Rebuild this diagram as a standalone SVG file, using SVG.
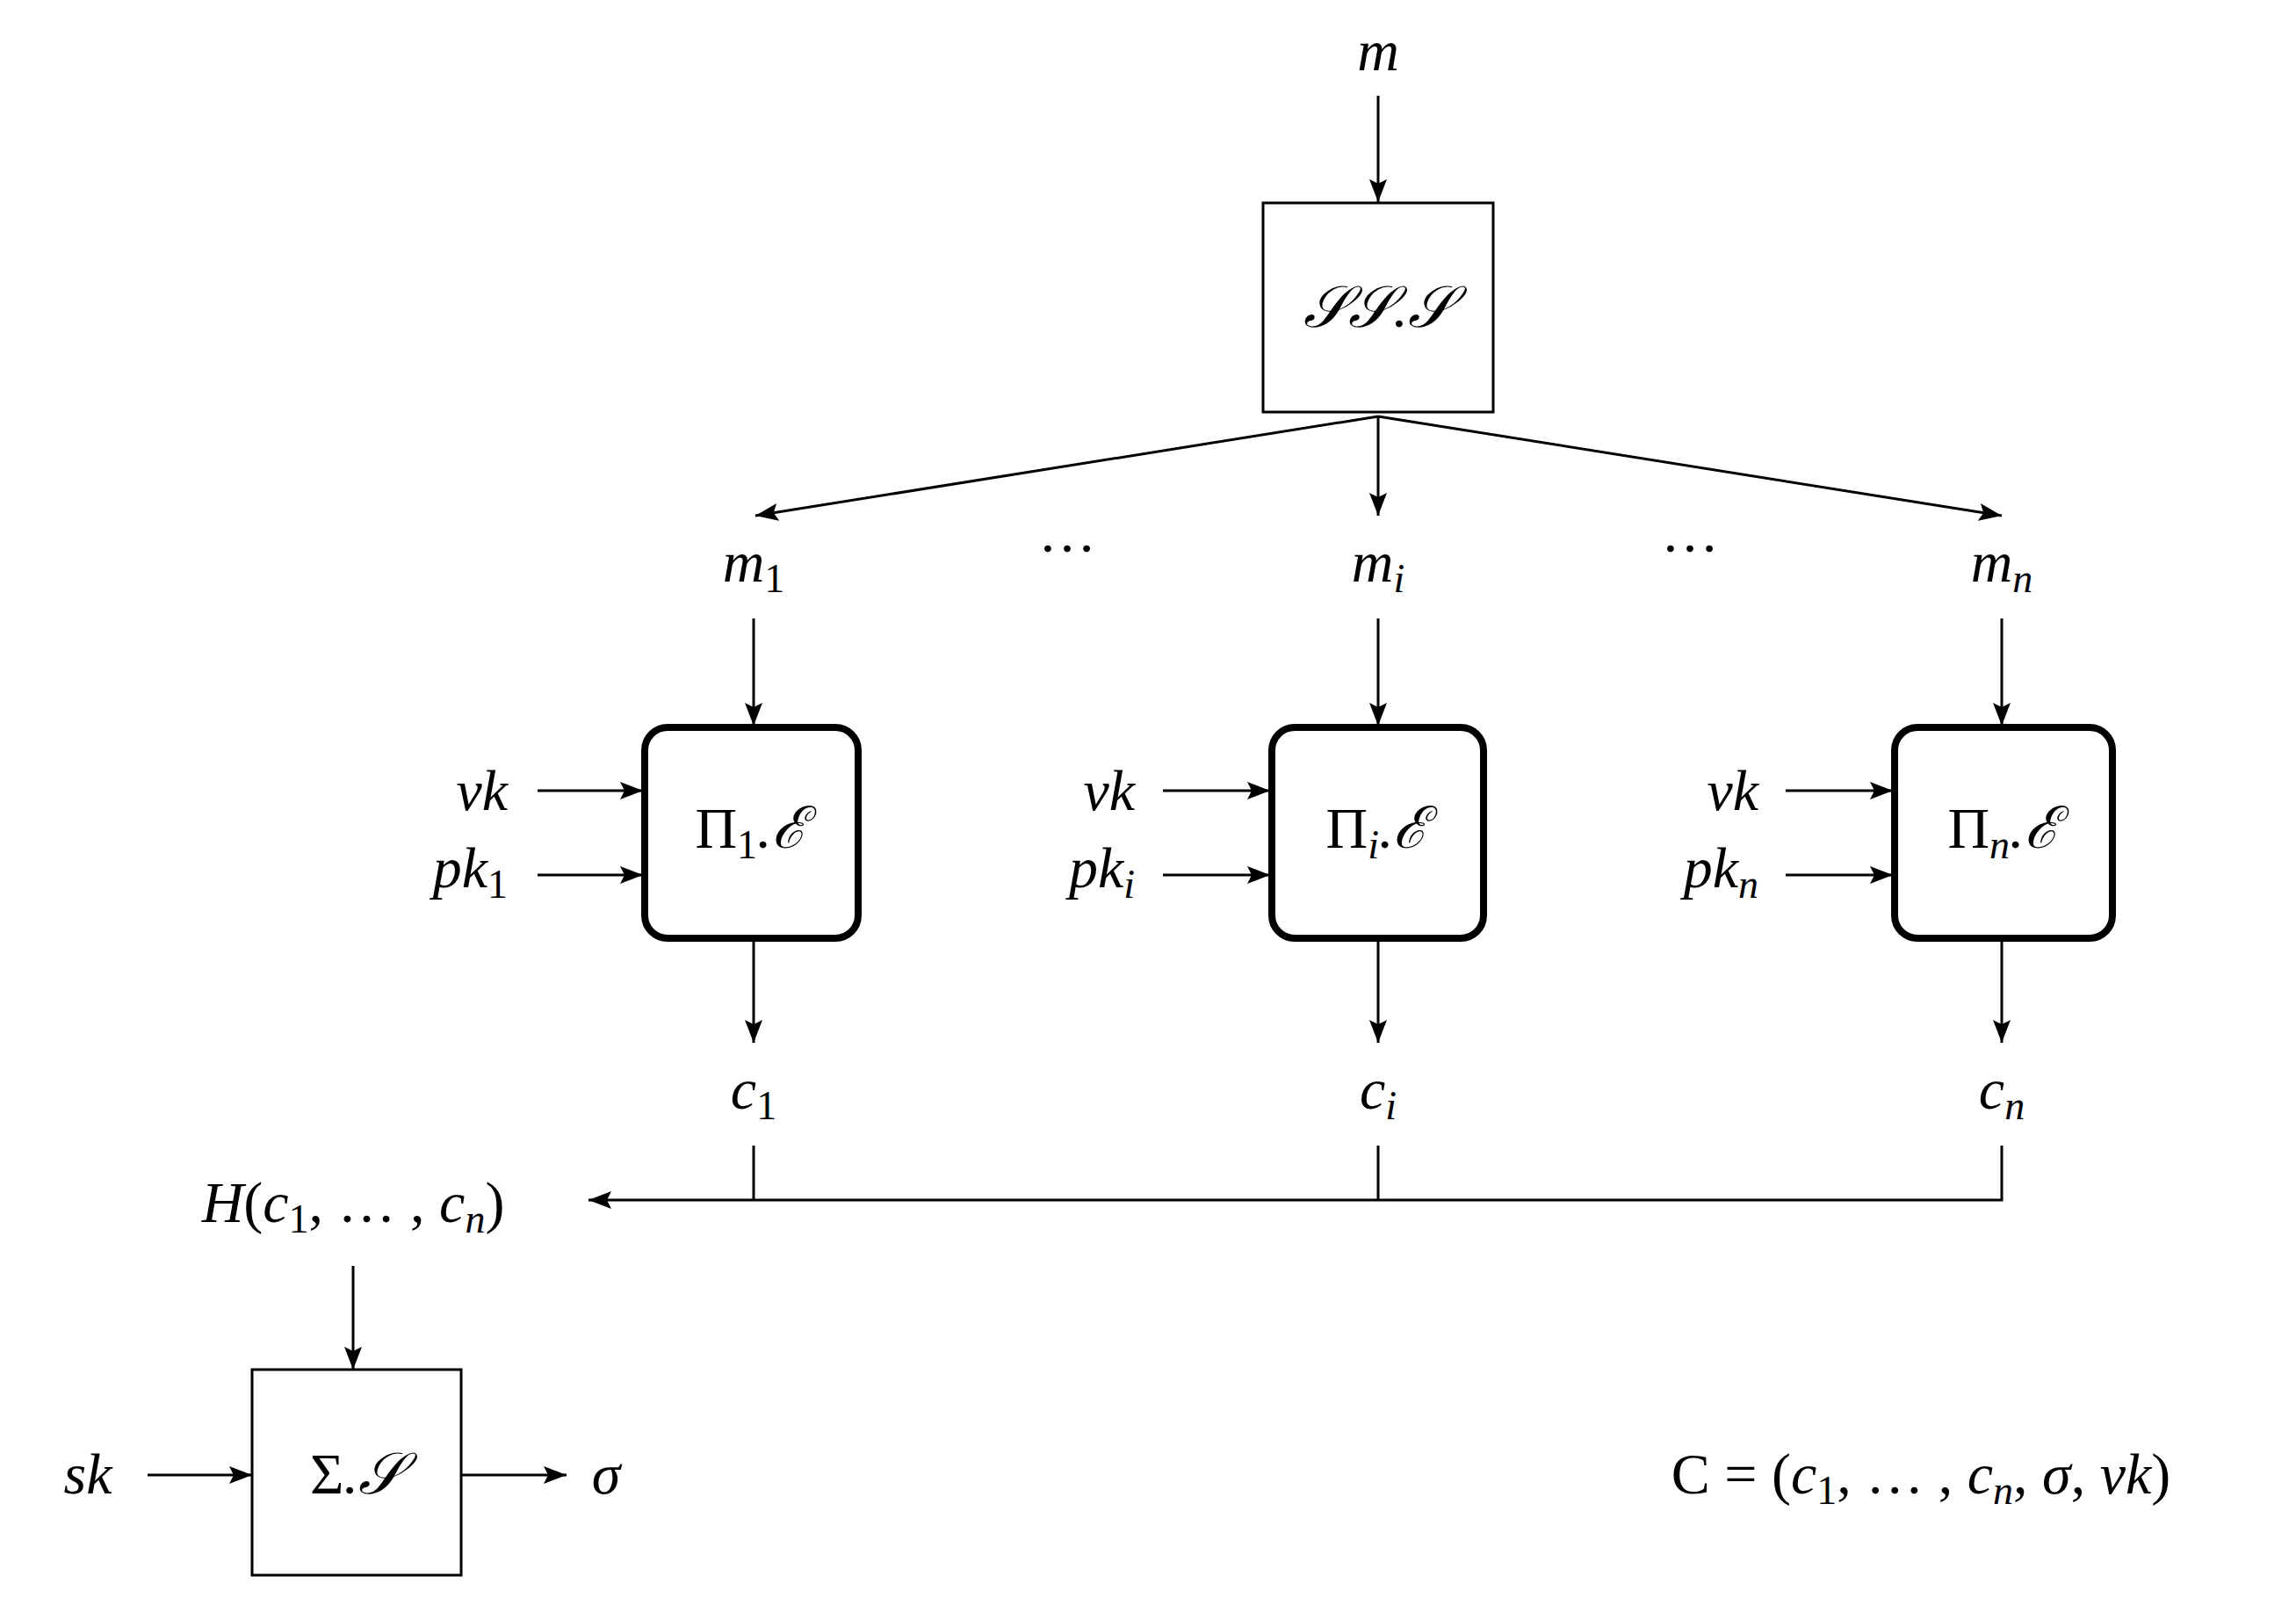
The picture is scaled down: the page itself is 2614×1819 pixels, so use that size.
<svg xmlns="http://www.w3.org/2000/svg" width="2614" height="1819" viewBox="0 0 2614 1819">
<style>
text{font-family:"Liberation Serif","DejaVu Serif",serif;font-size:66px;font-style:italic;fill:#000;text-anchor:middle}
.up{font-style:normal}
.sub{font-size:46px}
.thin{fill:#fff;stroke:#000;stroke-width:3}
.thick{fill:#fff;stroke:#000;stroke-width:8}
.c{stroke:#000;stroke-width:3;fill:none}
</style>
<defs>
<marker id="a" viewBox="0 0 10 10" refX="10" refY="5" markerWidth="8" markerHeight="8" markerUnits="userSpaceOnUse" orient="auto" style="overflow:visible">
<path d="M0,0 L10,5 L0,10 Z" transform="scale(2.6) translate(-6,-5) translate(6,5)" fill="#000"/>
</marker>
<marker id="h" viewBox="0 0 26 20" refX="26" refY="10" markerWidth="26" markerHeight="20" markerUnits="userSpaceOnUse" orient="auto">
<path d="M0,0 L26,10 L0,20 L5,10 Z" fill="#000"/>
</marker>
</defs>
<g id="connectors" class="c">
<line x1="1569" y1="109" x2="1569" y2="230" marker-end="url(#h)"/>
<line x1="1569" y1="474" x2="860" y2="587" marker-end="url(#h)"/>
<line x1="1569" y1="474" x2="1569" y2="587" marker-end="url(#h)"/>
<line x1="1569" y1="474" x2="2279" y2="587" marker-end="url(#h)"/>
<line x1="858" y1="704" x2="858" y2="826" marker-end="url(#h)"/>
<line x1="1569" y1="704" x2="1569" y2="826" marker-end="url(#h)"/>
<line x1="2279" y1="704" x2="2279" y2="826" marker-end="url(#h)"/>
<line x1="612" y1="900" x2="732" y2="900" marker-end="url(#h)"/>
<line x1="612" y1="996" x2="732" y2="996" marker-end="url(#h)"/>
<line x1="1324" y1="900" x2="1446" y2="900" marker-end="url(#h)"/>
<line x1="1324" y1="996" x2="1446" y2="996" marker-end="url(#h)"/>
<line x1="2033" y1="900" x2="2155" y2="900" marker-end="url(#h)"/>
<line x1="2033" y1="996" x2="2155" y2="996" marker-end="url(#h)"/>
<line x1="858" y1="1072" x2="858" y2="1187" marker-end="url(#h)"/>
<line x1="1569" y1="1072" x2="1569" y2="1187" marker-end="url(#h)"/>
<line x1="2279" y1="1072" x2="2279" y2="1187" marker-end="url(#h)"/>
<polyline points="858,1304 858,1366"/>
<polyline points="1569,1304 1569,1366"/>
<polyline points="2279,1304 2279,1366 670,1366" marker-end="url(#h)"/>
<line x1="402" y1="1441" x2="402" y2="1559" marker-end="url(#h)"/>
<line x1="168" y1="1679" x2="287" y2="1679" marker-end="url(#h)"/>
<line x1="525" y1="1679" x2="645" y2="1679" marker-end="url(#h)"/>
</g>
<g id="m"><text x="1569" y="80">m</text></g>
<g id="sss"><rect class="thin" x="1438" y="231" width="262" height="238"/><text x="1569" y="372">𝒮𝒮.𝒮</text></g>
<g id="m1"><text x="858" y="662">m<tspan class="up sub" dy="12">1</tspan></text></g>
<g id="dots1"><text class="up" x="1215" y="628">…</text></g>
<g id="mi"><text x="1569" y="662">m<tspan class="sub" dy="12">i</tspan></text></g>
<g id="dots2"><text class="up" x="1924" y="628">…</text></g>
<g id="mn"><text x="2279" y="662">m<tspan class="sub" dy="12">n</tspan></text></g>
<g id="pi1"><rect class="thick" x="734" y="828" width="243" height="240" rx="26"/><text x="855" y="965"><tspan class="up">Π</tspan><tspan class="up sub" dy="12">1</tspan><tspan dy="-12">.ℰ</tspan></text></g>
<g id="pii"><rect class="thick" x="1448" y="828" width="241" height="240" rx="26"/><text x="1568" y="965"><tspan class="up">Π</tspan><tspan class="sub" dy="12">i</tspan><tspan dy="-12">.ℰ</tspan></text></g>
<g id="pin"><rect class="thick" x="2157" y="828" width="248" height="240" rx="26"/><text x="2281" y="965"><tspan class="up">Π</tspan><tspan class="sub" dy="12">n</tspan><tspan dy="-12">.ℰ</tspan></text></g>
<g id="k1"><text x="578" y="922" style="text-anchor:end">vk</text><text x="578" y="1010" style="text-anchor:end">pk<tspan class="up sub" dy="12">1</tspan></text></g>
<g id="ki"><text x="1292" y="922" style="text-anchor:end">vk</text><text x="1292" y="1010" style="text-anchor:end">pk<tspan class="sub" dy="12">i</tspan></text></g>
<g id="kn"><text x="2002" y="922" style="text-anchor:end">vk</text><text x="2002" y="1010" style="text-anchor:end">pk<tspan class="sub" dy="12">n</tspan></text></g>
<g id="c1"><text x="858" y="1262">c<tspan class="up sub" dy="12">1</tspan></text></g>
<g id="ci"><text x="1569" y="1262">c<tspan class="sub" dy="12">i</tspan></text></g>
<g id="cn"><text x="2279" y="1262">c<tspan class="sub" dy="12">n</tspan></text></g>
<g id="H"><text x="402" y="1391">H<tspan class="up">(</tspan>c<tspan class="up sub" dy="12">1</tspan><tspan class="up" dy="-12">, … ,</tspan> c<tspan class="sub" dy="12">n</tspan><tspan class="up" dy="-12">)</tspan></text></g>
<g id="sigS"><rect class="thin" x="287" y="1559" width="238" height="234"/><text x="406" y="1700"><tspan class="up">Σ</tspan>.𝒮</text></g>
<g id="sk"><text x="100" y="1700">sk</text></g>
<g id="sigma"><text x="690" y="1700">σ</text></g>
<g id="C"><text x="2187" y="1700"><tspan class="up">C = (</tspan>c<tspan class="up sub" dy="12">1</tspan><tspan class="up" dy="-12">, … ,</tspan> c<tspan class="sub" dy="12">n</tspan><tspan class="up" dy="-12">,</tspan> σ<tspan class="up">,</tspan> vk<tspan class="up">)</tspan></text></g>
</svg>
